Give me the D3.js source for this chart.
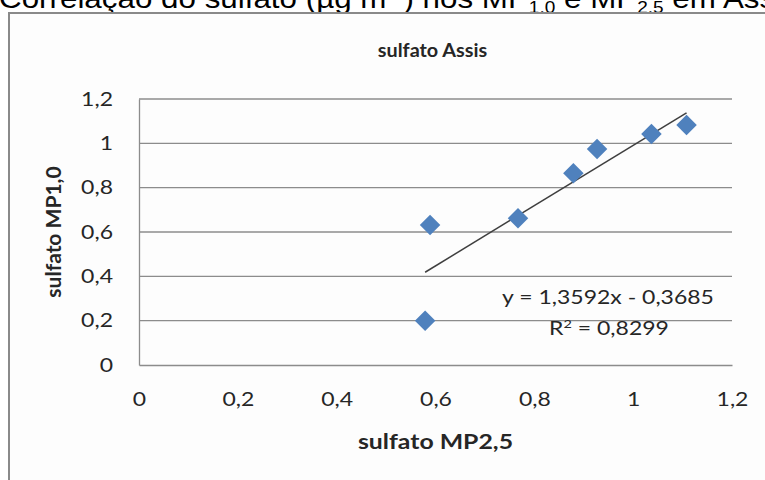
<!DOCTYPE html>
<html>
<head>
<meta charset="utf-8">
<script src="https://cdn.jsdelivr.net/npm/d3@7"></script>
<style>
  body { margin: 0; background: #ffffff; }
  svg { display: block; }
</style>
</head>
<body>
<div id="chart"></div>
<script>
// values
var mp25 = [0.589, 0.579, 0.767, 0.879, 0.927, 1.037, 1.108];
var mp10 = [0.632, 0.200, 0.662, 0.865, 0.974, 1.042, 1.083];
var xTicks = [0, 0.2, 0.4, 0.6, 0.8, 1, 1.2];
var yTicks = [0, 0.2, 0.4, 0.6, 0.8, 1, 1.2];
var trendSlope = 1.3592;
var trendIntercept = -0.3685;
var rSquared = "0,8299";
var chartTitle = "sulfato Assis";
var xTitle = "sulfato MP2,5";
var yTitle = "sulfato MP1,0";

var svgWidth = 765;
var svgHeight = 480;

var margin = { top: 99, right: 33, bottom: 115, left: 139 };
var width = svgWidth - margin.left - margin.right;
var height = svgHeight - margin.top - margin.bottom;

// the picture is a bit stretched sideways, so text gets a horizontal scale
var stretch = 1.21;
var fontChart = "Lato, 'Open Sans', sans-serif";

var ptBR = d3.formatLocale({ decimal: ",", thousands: ".", grouping: [3], currency: ["R$", ""] });
var tickFmt = ptBR.format(".1~f");
var eqFmt = ptBR.format(".4f");

var svg = d3.select("#chart")
  .append("svg")
  .attr("width", svgWidth)
  .attr("height", svgHeight);

// page heading, cut off at the top of the picture
var heading = svg.append("text")
  .attr("transform", "translate(-1, 8) scale(1.12, 1)")
  .style("font-family", "'Liberation Sans', Arial, sans-serif")
  .style("font-size", "28px")
  .style("fill", "#000");
heading.append("tspan").text("Correlação do sulfato (µg m");
heading.append("tspan").attr("dy", -9).style("font-size", "17px").text("-3");
heading.append("tspan").attr("dy", 9).text(") nos MP");
heading.append("tspan").attr("dy", 5).style("font-size", "17px").text("1,0");
heading.append("tspan").attr("dy", -5).text(" e MP");
heading.append("tspan").attr("dy", 5).style("font-size", "17px").text("2,5");
heading.append("tspan").attr("dy", -5).text(" em Assis");

// chart frame
svg.append("rect")
  .attr("x", 9)
  .attr("y", 13)
  .attr("width", 800)
  .attr("height", 500)
  .attr("fill", "#fdfdfd")
  .attr("stroke", "#8a8a8a")
  .attr("stroke-width", 2);

var chartGroup = svg.append("g")
  .attr("transform", `translate(${margin.left}, ${margin.top})`);

var xScale = d3.scaleLinear().domain([0, 1.2]).range([0, width]);
var yScale = d3.scaleLinear().domain([0, 1.2]).range([height, 0]);

// horizontal gridlines
chartGroup.append("g")
  .selectAll("line")
  .data(yTicks.filter(d => d > 0))
  .enter()
  .append("line")
  .attr("x1", 0)
  .attr("x2", width)
  .attr("y1", d => yScale(d))
  .attr("y2", d => yScale(d))
  .attr("stroke", "#8c8c8c")
  .attr("stroke-width", 1.3);

// axes
var bottomAxis = d3.axisBottom(xScale).tickValues(xTicks).tickSize(0).tickPadding(28).tickFormat(tickFmt);
var leftAxis = d3.axisLeft(yScale).tickValues(yTicks).tickSize(0).tickPadding(26 / stretch).tickFormat(tickFmt);

var xAxis = chartGroup.append("g")
  .attr("transform", `translate(0, ${height})`)
  .call(bottomAxis);

var yAxis = chartGroup.append("g").call(leftAxis);

[xAxis, yAxis].forEach(function(ax) {
  ax.select(".domain").attr("stroke", "#8c8c8c").attr("stroke-width", 1.3);
  ax.selectAll("text")
    .attr("transform", `scale(${stretch}, 1)`)
    .style("font-family", fontChart)
    .style("font-size", "19px")
    .style("fill", "#262626");
});

// linear trendline across the data range
var xMin = d3.min(mp25);
var xMax = d3.max(mp25);
chartGroup.append("line")
  .attr("x1", xScale(xMin))
  .attr("y1", yScale(trendSlope * xMin + trendIntercept))
  .attr("x2", xScale(xMax))
  .attr("y2", yScale(trendSlope * xMax + trendIntercept))
  .attr("stroke", "#3f3f3f")
  .attr("stroke-width", 1.5);

// diamond markers
var diamond = d3.symbol().type(d3.symbolSquare).size(210);
chartGroup.selectAll("path.point")
  .data(mp25.map((x, i) => ({ x: x, y: mp10[i] })))
  .enter()
  .append("path")
  .attr("class", "point")
  .attr("d", diamond)
  .attr("transform", d => `translate(${xScale(d.x)}, ${yScale(d.y)}) rotate(45)`)
  .attr("fill", "#4f81bd");

// trendline equation
var eqGroup = chartGroup.append("g")
  .style("font-family", fontChart)
  .style("font-size", "19px")
  .style("fill", "#262626")
  .attr("text-anchor", "middle");

eqGroup.append("text")
  .attr("transform", `translate(469, 205) scale(${stretch}, 1)`)
  .text(`y = ${eqFmt(trendSlope)}x - ${eqFmt(-trendIntercept)}`);

var r2Text = eqGroup.append("text")
  .attr("transform", `translate(470, 236) scale(${stretch}, 1)`);
r2Text.append("tspan").text("R");
r2Text.append("tspan").attr("dy", -7).style("font-size", "12px").text("2");
r2Text.append("tspan").attr("dy", 7).text(" = " + rSquared);

// titles
svg.append("text")
  .attr("transform", `translate(${margin.left + width / 2 - 3}, 57) scale(1.1, 1)`)
  .attr("text-anchor", "middle")
  .style("font-family", fontChart)
  .style("font-weight", "bold")
  .style("font-size", "18px")
  .style("fill", "#262626")
  .text(chartTitle);

svg.append("text")
  .attr("transform", `translate(${margin.left + width / 2}, 449) scale(${stretch}, 1)`)
  .attr("text-anchor", "middle")
  .style("font-family", fontChart)
  .style("font-weight", "bold")
  .style("font-size", "20.5px")
  .style("fill", "#262626")
  .text(xTitle);

svg.append("text")
  .attr("transform", `translate(61, ${margin.top + height / 2}) rotate(-90)`)
  .attr("text-anchor", "middle")
  .style("font-family", fontChart)
  .style("font-weight", "bold")
  .style("font-size", "21px")
  .style("fill", "#262626")
  .text(yTitle);
</script>
</body>
</html>
